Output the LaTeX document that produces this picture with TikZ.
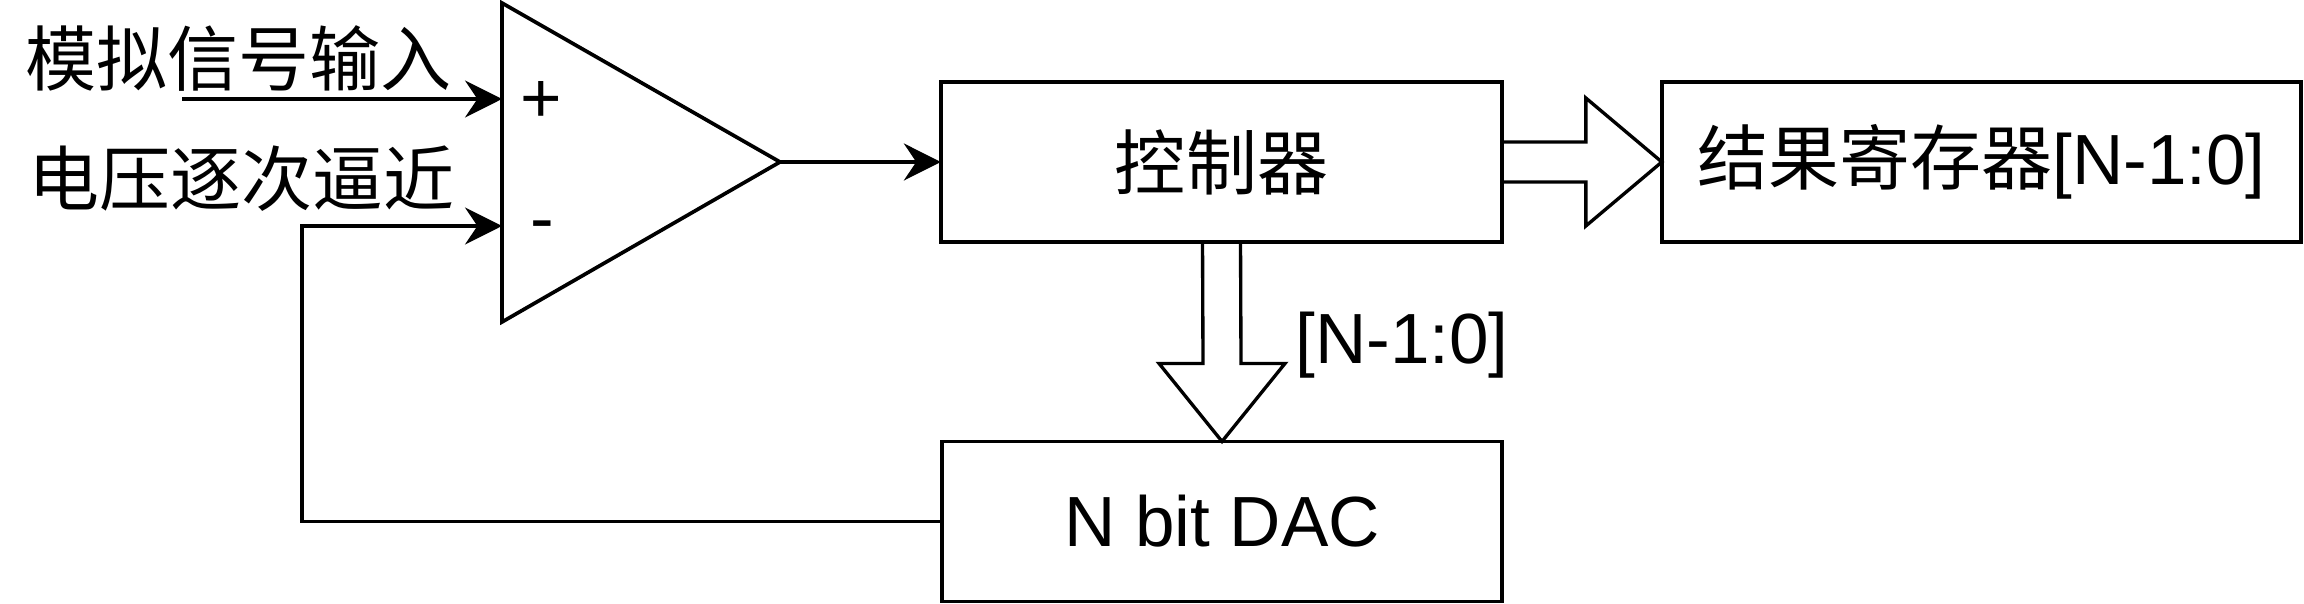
\documentclass[tikz,border=0pt]{standalone}
\usepackage{fontspec}
\setmainfont{Liberation Sans}
\newfontfamily\cjk{Noto Sans CJK SC}
\usetikzlibrary{calc,arrows.meta}

\newcommand{\txt}{\fontsize{20.2}{24}\selectfont}
\tikzset{
  wire/.style={line width=1.05pt},
  sig/.style={wire, -{Stealth[length=10.5pt, width=10.5pt, inset=3.5pt]}},
  blk/.style={draw, line width=1.05pt, minimum height=1.6cm, outer sep=0pt, inner sep=0pt, font=\txt},
  fatarrow/.style={line width=0.95pt},
}

\begin{document}
\begin{tikzpicture}[x=0.01cm, y=-0.01cm, line join=miter]
  \useasboundingbox (0,0) rectangle (2304,604);

  % --- Coordinates (pixels, y downwards) ---
  \coordinate (T1) at (502,3);
  \coordinate (T2) at (502,322);
  \coordinate (Out) at (780,162);
  \coordinate (InP) at (502,99);
  \coordinate (InN) at (502,226);
  \coordinate (Src) at (182,99);
  \coordinate (Fb) at (302,226);

  % --- Blocks ---
  \node[blk, minimum width=5.61cm] (ctrl) at (1221.5,162) {\cjk 控制器};
  \node[blk, minimum width=5.6cm] (dac) at (1222,521.5) {N bit DAC};
  \node[blk, minimum width=6.39cm] (res) at (1981.5,162) {{\cjk 结果寄存器}[N-1:0]};

  % --- Comparator ---
  \draw[wire] (T1) -- (T2) -- (Out) -- cycle;
  \node[font=\txt, anchor=base, inner sep=0pt] (plus) at (541,123) {+};
  \node[font=\txt, anchor=base, inner sep=0pt] (minus) at (542,243) {-};

  % --- Inputs ---
  \node[font=\txt\cjk, anchor=west, inner sep=0pt] (lblIn) at (25,59) {模拟信号输入};
  \node[font=\txt\cjk, anchor=west, inner sep=0pt] (lblSar) at (28,179) {电压逐次逼近};

  % --- Signal lines ---
  \draw[sig] (Src) -- (InP);
  \draw[sig] (dac.west) -| (Fb) -- (InN);
  \draw[sig] (Out) -- (ctrl.west);

  % --- Bus arrow to result register ---
  \draw[fatarrow] ($(ctrl.east)+(0,-20)$) -- ($(res.west)+(-76,-20)$)
    -- ($(res.west)+(-76,-64)$) -- (res.west) -- ($(res.west)+(-76,64)$)
    -- ($(res.west)+(-76,20)$) -- ($(ctrl.east)+(0,20)$);

  % --- Bus arrow to DAC ---
  \draw[fatarrow] ($(ctrl.south)+(-19,0)$) -- ($(dac.north)+(-19,-78)$)
    -- ($(dac.north)+(-63,-78)$) -- (dac.north) -- ($(dac.north)+(63,-78)$)
    -- ($(dac.north)+(19,-78)$) -- ($(ctrl.south)+(19,0)$);
  \node[font=\txt] (bus) at (1402,345) {[N-1:0]};
\end{tikzpicture}
\end{document}
